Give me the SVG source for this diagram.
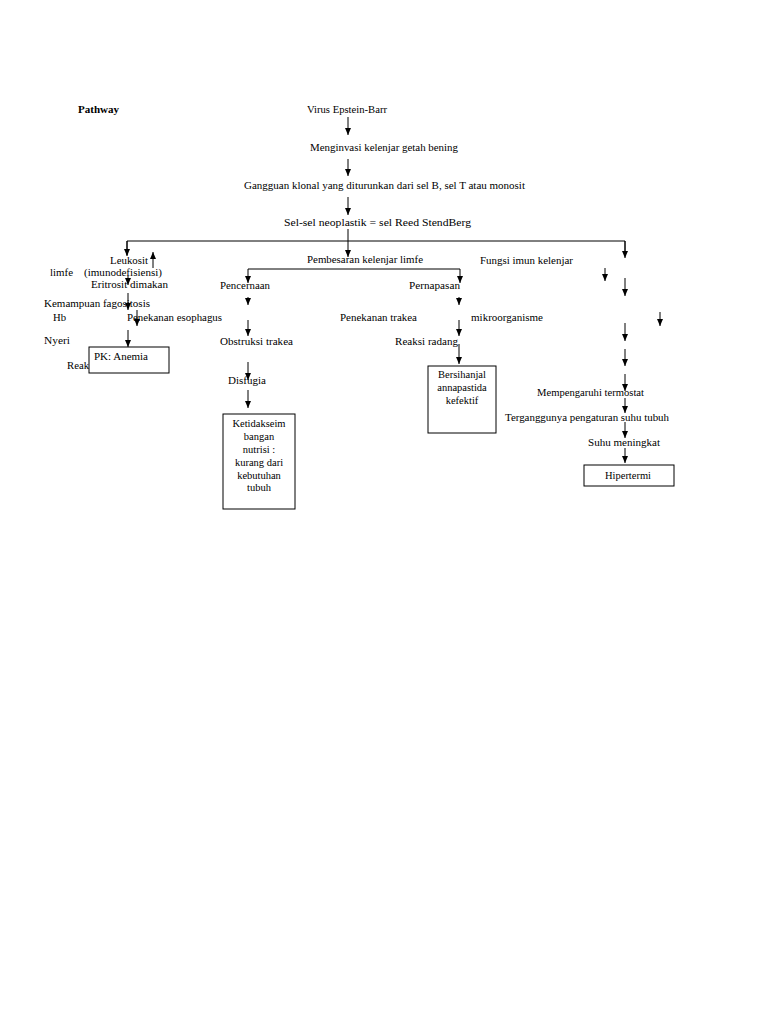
<svg xmlns="http://www.w3.org/2000/svg" width="768" height="1024" viewBox="0 0 768 1024">
<style>
text{font-family:"Liberation Serif","Times New Roman",serif;font-size:10.5px;fill:#000}
.b{font-weight:bold}
.c{text-anchor:middle}
.ln{stroke:#000;stroke-width:1;fill:none}
.ar{stroke:#000;stroke-width:1;fill:none;marker-end:url(#ah)}
.box{fill:#fff;stroke:#000;stroke-width:1}
</style>
<defs>
<marker id="ah" markerUnits="userSpaceOnUse" markerWidth="8" markerHeight="6" refX="7" refY="3" orient="auto">
<path d="M0,0 L7,3 L0,6 z" fill="#000"/>
</marker>
</defs>
<rect width="768" height="1024" fill="#fff"/>
<g id="connectors">
<line class="ar" x1="348" y1="117" x2="348" y2="135"/>
<line class="ar" x1="348" y1="159" x2="348" y2="176"/>
<line class="ar" x1="348" y1="197" x2="348" y2="215"/>
<line class="ln" x1="348" y1="229" x2="348" y2="241"/>
<line class="ar" x1="348" y1="241" x2="348" y2="257"/>
<polyline class="ln" points="127,255 127,241 625,241 625,252"/>
<line class="ar" x1="127" y1="241" x2="127" y2="256"/>
<line class="ar" x1="625" y1="241" x2="625" y2="258"/>
<line class="ar" x1="153" y1="268" x2="153" y2="252"/>
<line class="ar" x1="128" y1="276" x2="128" y2="285"/>
<line class="ar" x1="128" y1="293" x2="128" y2="310"/>
<line class="ar" x1="137" y1="310" x2="137" y2="326"/>
<line class="ar" x1="128" y1="330" x2="128" y2="347"/>
<polyline class="ln" points="248,269 460,269"/>
<line class="ar" x1="248" y1="269" x2="248" y2="283"/>
<line class="ar" x1="460" y1="269" x2="460" y2="283"/>
<line class="ar" x1="248" y1="297" x2="248" y2="305"/>
<line class="ar" x1="459" y1="297" x2="459" y2="305"/>
<line class="ar" x1="248" y1="320" x2="248" y2="336"/>
<line class="ar" x1="459" y1="320" x2="459" y2="336"/>
<line class="ar" x1="459" y1="344" x2="459" y2="364"/>
<line class="ar" x1="248" y1="362" x2="248" y2="380"/>
<line class="ar" x1="248" y1="390" x2="248" y2="408"/>
<line class="ar" x1="605" y1="268" x2="605" y2="281"/>
<line class="ar" x1="625" y1="278" x2="625" y2="296"/>
<line class="ar" x1="660" y1="312" x2="660" y2="326"/>
<line class="ar" x1="625" y1="323" x2="625" y2="341"/>
<line class="ar" x1="625" y1="349" x2="625" y2="366"/>
<line class="ar" x1="625" y1="374" x2="625" y2="391"/>
<line class="ar" x1="625" y1="398" x2="625" y2="413"/>
<line class="ar" x1="625" y1="422" x2="625" y2="438"/>
<line class="ar" x1="625" y1="448" x2="625" y2="463"/>
</g>
<g id="title"><text class="b" x="78" y="113" textLength="41" lengthAdjust="spacingAndGlyphs">Pathway</text></g>
<g id="n-virus"><text x="307" y="113" textLength="80" lengthAdjust="spacingAndGlyphs">Virus Epstein-Barr</text></g>
<g id="n-menginvasi"><text x="310" y="151" textLength="148" lengthAdjust="spacingAndGlyphs">Menginvasi kelenjar getah bening</text></g>
<g id="n-gangguan"><text x="244" y="189" textLength="281" lengthAdjust="spacingAndGlyphs">Gangguan klonal yang diturunkan dari sel B, sel T atau monosit</text></g>
<g id="n-selsel"><text x="284" y="226" textLength="187" lengthAdjust="spacingAndGlyphs">Sel-sel neoplastik = sel Reed StendBerg</text></g>
<g id="n-leukosit"><text x="110" y="264" textLength="38" lengthAdjust="spacingAndGlyphs">Leukosit</text></g>
<g id="n-limfe"><text x="50" y="276" textLength="23" lengthAdjust="spacingAndGlyphs">limfe</text></g>
<g id="n-imuno"><text x="84" y="276" textLength="78" lengthAdjust="spacingAndGlyphs">(imunodefisiensi)</text></g>
<g id="n-eritrosit"><text x="91" y="288" textLength="77" lengthAdjust="spacingAndGlyphs">Eritrosit dimakan</text></g>
<g id="n-kemampuan"><text x="44" y="307" textLength="106" lengthAdjust="spacingAndGlyphs">Kemampuan fagositosis</text></g>
<g id="n-hb"><text x="53" y="321" textLength="13" lengthAdjust="spacingAndGlyphs">Hb</text></g>
<g id="n-esophagus"><text x="127" y="321" textLength="95" lengthAdjust="spacingAndGlyphs">Penekanan esophagus</text></g>
<g id="n-nyeri"><text x="44" y="344" textLength="26" lengthAdjust="spacingAndGlyphs">Nyeri</text></g>
<g id="n-reak"><text x="67" y="369" textLength="22" lengthAdjust="spacingAndGlyphs">Reak</text></g>
<g id="n-anemia"><rect class="box" x="89" y="347" width="80" height="26"/><text x="94" y="360" textLength="54" lengthAdjust="spacingAndGlyphs">PK: Anemia</text></g>
<g id="n-pembesaran"><text x="307" y="263" textLength="116" lengthAdjust="spacingAndGlyphs">Pembesaran kelenjar limfe</text></g>
<g id="n-pencernaan"><text x="220" y="289" textLength="50" lengthAdjust="spacingAndGlyphs">Pencernaan</text></g>
<g id="n-pernapasan"><text x="409" y="289" textLength="51" lengthAdjust="spacingAndGlyphs">Pernapasan</text></g>
<g id="n-trakea"><text x="340" y="321" textLength="77" lengthAdjust="spacingAndGlyphs">Penekanan trakea</text></g>
<g id="n-mikro"><text x="471" y="321" textLength="72" lengthAdjust="spacingAndGlyphs">mikroorganisme</text></g>
<g id="n-obstruksi"><text x="220" y="345" textLength="73" lengthAdjust="spacingAndGlyphs">Obstruksi trakea</text></g>
<g id="n-radang"><text x="395" y="345" textLength="63" lengthAdjust="spacingAndGlyphs">Reaksi radang</text></g>
<g id="n-disfugia"><text x="228" y="384" textLength="38" lengthAdjust="spacingAndGlyphs">Disfugia</text></g>
<g id="n-nutrisi"><rect class="box" x="223" y="414" width="72" height="95"/>
<text class="c" x="259" y="427">Ketidakseim</text>
<text class="c" x="259" y="440">bangan</text>
<text class="c" x="259" y="453">nutrisi :</text>
<text class="c" x="259" y="466">kurang dari</text>
<text class="c" x="259" y="479">kebutuhan</text>
<text class="c" x="259" y="491">tubuh</text></g>
<g id="n-bersihan"><rect class="box" x="428" y="366" width="68" height="67"/>
<text class="c" x="462" y="378">Bersihanjal</text>
<text class="c" x="462" y="391">annapastida</text>
<text class="c" x="462" y="404">kefektif</text></g>
<g id="n-fungsi"><text x="480" y="264" textLength="93" lengthAdjust="spacingAndGlyphs">Fungsi imun kelenjar</text></g>
<g id="n-termostat"><text x="537" y="396" textLength="107" lengthAdjust="spacingAndGlyphs">Mempengaruhi termostat</text></g>
<g id="n-terganggu"><text x="505" y="421" textLength="164" lengthAdjust="spacingAndGlyphs">Terganggunya pengaturan suhu tubuh</text></g>
<g id="n-suhu"><text x="588" y="446" textLength="72" lengthAdjust="spacingAndGlyphs">Suhu meningkat</text></g>
<g id="n-hipertermi"><rect class="box" x="584" y="465" width="90" height="21"/><text x="605" y="479" textLength="46" lengthAdjust="spacingAndGlyphs">Hipertermi</text></g>
</svg>
